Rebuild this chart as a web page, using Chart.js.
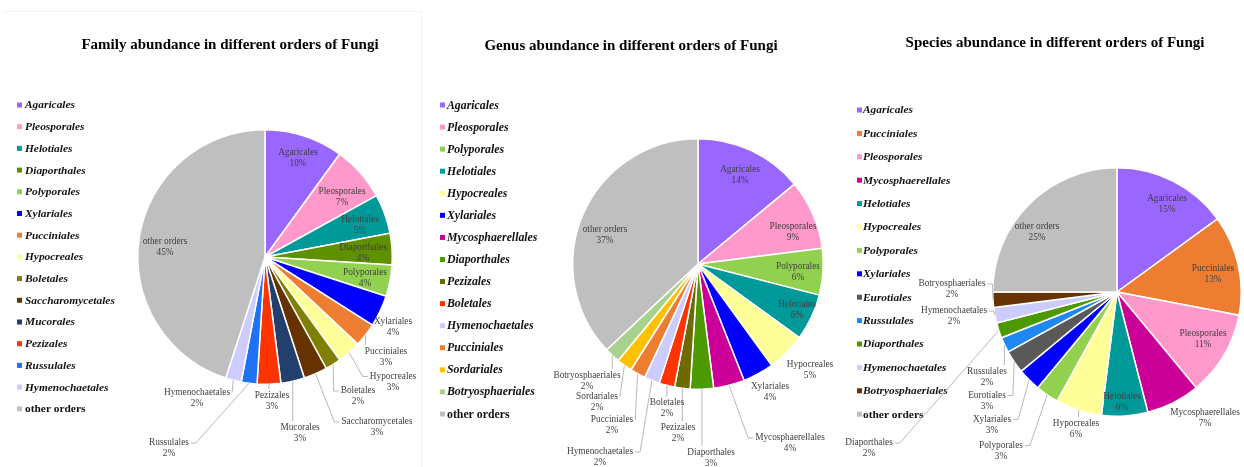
<!DOCTYPE html>
<html>
<head>
<meta charset="utf-8">
<script src="https://cdn.jsdelivr.net/npm/chart.js@4"></script>
<style>
  body { margin: 0; background: #fff; }
  #wrap { position: relative; width: 1244px; height: 467px; overflow: hidden; }
  #wrap canvas { position: absolute; top: 0; }
  #frame { position: absolute; left: 3px; top: 11px; width: 418px; height: 470px;
           border-top: 1px solid #f3f3f3; border-right: 1px solid #f3f3f3; }
</style>
</head>
<body>
<div id="wrap">
  <div id="frame"></div>
  <canvas id="famChart" width="425" height="467" style="left:0"></canvas>
  <canvas id="genChart" width="415" height="467" style="left:425px"></canvas>
  <canvas id="spcChart" width="404" height="467" style="left:840px"></canvas>
</div>
<script>
// --- family level ---
const famOrders = ['Agaricales', 'Pleosporales', 'Helotiales', 'Diaporthales', 'Polyporales', 'Xylariales',
    'Pucciniales', 'Hypocreales', 'Boletales', 'Saccharomycetales', 'Mucorales', 'Pezizales',
    'Russulales', 'Hymenochaetales', 'other orders'];
const famPct = [10, 7, 5, 4, 4, 4, 3, 3, 2, 3, 3, 3, 2, 2, 45];
const famColors = ['#9966FF', '#FF99CC', '#009999', '#5F9000', '#92D050', '#0000FF', '#ED7D31',
    '#FFFF99', '#7F7F00', '#663300', '#233F6E', '#FF3300', '#1F72F5', '#CCCCFF', '#BFBFBF'];

// --- genus level ---
const genOrders = ['Agaricales', 'Pleosporales', 'Polyporales', 'Helotiales', 'Hypocreales', 'Xylariales',
    'Mycosphaerellales', 'Diaporthales', 'Pezizales', 'Boletales', 'Hymenochaetales', 'Pucciniales',
    'Sordariales', 'Botryosphaeriales', 'other orders'];
const genPct = [14, 9, 6, 6, 5, 4, 4, 3, 2, 2, 2, 2, 2, 2, 37];
const genColors = ['#9966FF', '#FF99CC', '#92D050', '#009999', '#FFFF99', '#0000FF', '#CC0099',
    '#4C9900', '#6B6B00', '#FF3300', '#CCCCFF', '#ED7D31', '#FFC000', '#A9D18E', '#BFBFBF'];

// --- species level ---
const spcOrders = ['Agaricales', 'Pucciniales', 'Pleosporales', 'Mycosphaerellales', 'Helotiales',
    'Hypocreales', 'Polyporales', 'Xylariales', 'Eurotiales', 'Russulales', 'Diaporthales',
    'Hymenochaetales', 'Botryosphaeriales', 'other orders'];
const spcPct = [15, 13, 11, 7, 6, 6, 3, 3, 3, 2, 2, 2, 2, 25];
const spcColors = ['#9966FF', '#ED7D31', '#FF99CC', '#CC0099', '#009999', '#FFFF99', '#92D050',
    '#0000FF', '#595959', '#1E88F0', '#4C9900', '#CCCCFF', '#663300', '#BFBFBF'];

// label block centres, offset from the pie centre (px)
const famLabelAt = [[33, -99], [77, -59.5], [95, -31.5], [98, -3.5], [100, 21.5], [128, 70.5],
    [121, 100], [128, 125], [93, 139.5], [112, 170.5], [35, 176.5], [7, 144.5],
    [-96, 191.5], [-68, 141], [-100, -9.5]];
const famLeader = [0, 0, 0, 0, 0, 0, 1, 1, 1, 1, 1, 1, 1, 1, 0];

const genLabelAt = [[42, -89], [95, -32], [100, 8], [99, 46], [112, 106.5], [72, 128.5],
    [92, 179.5], [13, 194], [-20, 169.5], [-31, 144.5], [-98, 193.5], [-86, 161.5],
    [-101, 138], [-111, 117], [-93, -28.5]];
const genLeader = [0, 0, 0, 0, 0, 0, 1, 1, 1, 1, 1, 1, 1, 1, 0];

const spcLabelAt = [[50, -87.5], [96, -17.5], [86, 47.5], [88, 126], [5, 110], [-41, 137.5],
    [-116, 159], [-125, 133], [-130, 109], [-130, 85], [-248, 156.5], [-163, 24.5],
    [-165, -2.5], [-80, -60]];
const spcLeader = [0, 0, 0, 0, 0, 1, 1, 1, 1, 1, 1, 1, 1, 0];

const SERIF = '"Liberation Serif", "Times New Roman", serif';

// title, side legend and percentage labels with leader lines
const pieText = {
    id: 'pieText',
    afterDatasetsDraw(chart, args, o) {
        const ctx = chart.ctx;
        const labels = chart.data.labels;
        const ds = chart.data.datasets[0];
        const arcs = chart.getDatasetMeta(0).data;
        ctx.save();

        ctx.fillStyle = '#000';
        ctx.textAlign = 'center';
        ctx.textBaseline = 'middle';
        ctx.font = 'bold 15px ' + SERIF;
        ctx.fillText(o.title, o.titleX, o.titleY);

        labels.forEach((name, i) => {
            const y = o.legendY + i * o.legendGap;
            ctx.fillStyle = ds.backgroundColor[i];
            ctx.fillRect(o.legendX, y - 2.5, 5, 5);
            ctx.fillStyle = '#111';
            ctx.textAlign = 'left';
            ctx.font = (name === 'other orders' ? '' : 'italic ') + 'bold ' + o.legendSize + 'px ' + SERIF;
            ctx.fillText(name, o.legendX + o.textGap, y + 0.5);
        });

        ctx.font = '9.3px ' + SERIF;
        ctx.textAlign = 'center';
        arcs.forEach((arc, i) => {
            const lx = arc.x + o.labelAt[i][0];
            const ly = arc.y + o.labelAt[i][1];
            const name = labels[i];
            const w = ctx.measureText(name).width;
            if (o.leader[i]) {
                const mid = (arc.startAngle + arc.endAngle) / 2;
                const sx = arc.x + Math.cos(mid) * arc.outerRadius;
                const sy = arc.y + Math.sin(mid) * arc.outerRadius;
                const top = ly - 11, bot = ly + 11;
                const left = lx - w / 2, right = lx + w / 2;
                const ny = ly - 5.5;
                ctx.beginPath();
                ctx.moveTo(sx, sy);
                if ((sy >= top && sy <= bot) || sx < left - 2 || sx > right + 2) {
                    if (sx < lx) {
                        const ex = left - 2;
                        if (sx < ex - 5) ctx.lineTo(ex - 5, ny);
                        ctx.lineTo(ex, ny);
                    } else {
                        const ex = right + 2;
                        if (sx > ex + 5) ctx.lineTo(ex + 5, ny);
                        ctx.lineTo(ex, ny);
                    }
                } else {
                    ctx.lineTo(sx, sy < top ? top - 1 : bot + 1);
                }
                ctx.strokeStyle = '#A6A6A6';
                ctx.lineWidth = 0.8;
                ctx.stroke();
            }
            ctx.fillStyle = '#404040';
            ctx.fillText(name, lx, ly - 5.5);
            ctx.fillText(ds.data[i] + '%', lx, ly + 5.5);
        });
        ctx.restore();
    }
};

function drawPie(id, orders, pct, colors, cx, cy, r, text) {
    const canvas = document.getElementById(id);
    const W = canvas.width, H = canvas.height;
    return new Chart(canvas, {
        type: 'pie',
        data: {
            labels: orders,
            datasets: [{
                data: pct,
                backgroundColor: colors,
                borderColor: '#ffffff',
                borderWidth: 1.5,
                hoverOffset: 0
            }]
        },
        options: {
            responsive: false,
            animation: false,
            layout: { padding: { left: cx - r, right: W - cx - r, top: cy - r, bottom: H - cy - r } },
            plugins: {
                legend: { display: false },
                tooltip: { enabled: false },
                pieText: text
            }
        },
        plugins: [pieText]
    });
}

drawPie('famChart', famOrders, famPct, famColors, 265, 257, 128, {
    title: 'Family abundance in different orders of Fungi', titleX: 230, titleY: 45,
    legendX: 17, legendY: 105, legendGap: 21.7, legendSize: 11.4, textGap: 8,
    labelAt: famLabelAt, leader: famLeader
});

drawPie('genChart', genOrders, genPct, genColors, 273, 264, 126, {
    title: 'Genus abundance in different orders of Fungi', titleX: 206, titleY: 46,
    legendX: 15, legendY: 105, legendGap: 22.07, legendSize: 11.8, textGap: 7,
    labelAt: genLabelAt, leader: genLeader
});

drawPie('spcChart', spcOrders, spcPct, spcColors, 277, 292, 125, {
    title: 'Species abundance in different orders of Fungi', titleX: 215, titleY: 43,
    legendX: 17, legendY: 110, legendGap: 23.4, legendSize: 11.4, textGap: 6,
    labelAt: spcLabelAt, leader: spcLeader
});
</script>
</body>
</html>
